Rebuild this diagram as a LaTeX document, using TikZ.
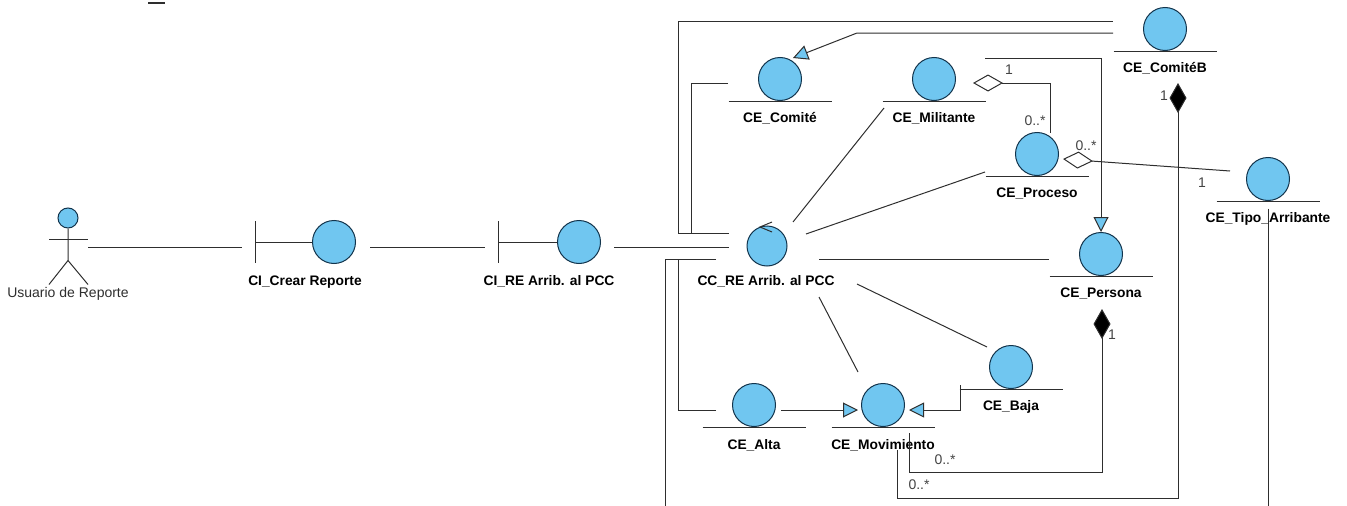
\documentclass[tikz,border=0pt]{standalone}
\usepackage{fontspec}
\setmainfont{Liberation Sans}
\usetikzlibrary{arrows.meta}
\definecolor{umlblue}{HTML}{70C6F0}
\definecolor{umlline}{HTML}{2E2E2E}
\definecolor{umledge}{HTML}{12344C}
\tikzset{
	entity/.style={
		circle,
		draw=umledge,
		fill=umlblue,
		line width=1pt,
		inner sep=0pt,
		minimum size=43pt
	},
	control/.style={
		entity,
		minimum size=40pt
	},
	actorhead/.style={
		entity,
		minimum size=20pt
	},
	elabel/.style={
		font=\fontsize{13.8}{16}\selectfont\bfseries,
		text=black,
		inner sep=0pt
	},
	mult/.style={
		font=\fontsize{14}{16}\selectfont,
		text=umlline!90,
		inner sep=0pt
	},
	assoc/.style={
		draw=umlline,
		line width=1pt
	},
	general/.style={
		assoc,
		-{Triangle[open,fill=umlblue,length=15pt,width=15pt]}
	},
	shared/.style={
		assoc,
		{Diamond[open,fill=white,length=30pt,width=17pt]}-
	},
	composite/.style={
		assoc,
		{Diamond[fill=black,length=30pt,width=17pt]}-
	}
}
\begin{document}
\begin{tikzpicture}[x=1pt,y=-1pt]
	\useasboundingbox (0,0) rectangle (1347,506);

	% elements
	\node[actorhead] (usuario) at (68,218) {};
	\node[entity] (crear) at (334,242) {};
	\node[entity] (cire) at (579,242) {};
	\node[control] (cc) at (767,246) {};
	\node[entity] (comite) at (780,79) {};
	\node[entity] (militante) at (934,79) {};
	\node[entity] (comiteb) at (1165,29) {};
	\node[entity] (proceso) at (1037,154) {};
	\node[entity] (tipo) at (1268,179) {};
	\node[entity] (persona) at (1101,254) {};
	\node[entity] (baja) at (1011,367) {};
	\node[entity] (alta) at (754,405) {};
	\node[entity] (movimiento) at (883,405) {};
	\coordinate (bottoma) at (665,506);
	\coordinate (bottomb) at (1268,506);

	% names
	\node[font=\fontsize{14}{16}\selectfont,text=umlline] (usuariolabel) at (68,294) {Usuario de Reporte};
	\node[elabel] (crearlabel) at (305,282) {CI\_Crear Reporte};
	\node[elabel] (cirelabel) at (549,281) {CI\_RE Arrib. al PCC};
	\node[elabel] (cclabel) at (766,281) {CC\_RE Arrib. al PCC};
	\node[elabel] (comitelabel) at (780,118) {CE\_Comité};
	\node[elabel] (militantelabel) at (934,118) {CE\_Militante};
	\node[elabel] (comiteblabel) at (1165,68) {CE\_ComitéB};
	\node[elabel] (procesolabel) at (1037,194) {CE\_Proceso};
	\node[elabel] (tipolabel) at (1268,219) {CE\_Tipo\_Arribante};
	\node[elabel] (personalabel) at (1101,294) {CE\_Persona};
	\node[elabel] (bajalabel) at (1011,407) {CE\_Baja};
	\node[elabel] (altalabel) at (754,445) {CE\_Alta};
	\node[elabel] (movimientolabel) at (883,445) {CE\_Movimiento};

	% multiplicities
	\node[mult] (mult1) at (1009,70) {1};
	\node[mult] (mult2) at (1035,121) {0..*};
	\node[mult] (mult3) at (1086,146) {0..*};
	\node[mult] (mult4) at (1202,183) {1};
	\node[mult] (mult5) at (1164,96) {1};
	\node[mult] (mult6) at (1112,335) {1};
	\node[mult] (mult7) at (945,460) {0..*};
	\node[mult] (mult8) at (919,485) {0..*};

	% bars under the entities
	\foreach \n in {comite,militante,comiteb,proceso,tipo,persona,baja,alta,movimiento}
		\draw[assoc] ([xshift=-51.5pt]\n.south) -- ([xshift=51.5pt]\n.south);

	% boundaries
	\foreach \n/\d in {crear/79,cire/81} {
		\draw[assoc] ([shift={(-\d,-21)}]\n.center) -- ([shift={(-\d,21)}]\n.center);
		\draw[assoc] ([shift={(-\d,0)}]\n.center) -- (\n.west);
	}

	% control arrow
	\draw[assoc] ([shift={(5,-24)}]cc.center) -- ([shift={(-7,-19)}]cc.center) -- ([shift={(5,-14)}]cc.center);

	% actor
	\draw[assoc] (usuario.south) -- ([shift={(0,32)}]usuario.south) -- ([shift={(-19,56)}]usuario.south);
	\draw[assoc] ([shift={(0,32)}]usuario.south) -- ([shift={(20,56)}]usuario.south);
	\draw[assoc] ([shift={(-19,11)}]usuario.south) -- ([shift={(20,11)}]usuario.south);

	% left chain
	\draw[assoc] ([shift={(20,29)}]usuario.center) -- ([shift={(-92,5)}]crear.center);
	\draw[assoc] ([shift={(36,5)}]crear.center) -- ([shift={(-94,5)}]cire.center);
	\draw[assoc] ([shift={(35,5)}]cire.center) -- ([shift={(-38,1)}]cc.center);

	% control to entities
	\draw[assoc] ([shift={(-38,-12.5)}]cc.center) -- ++(-51,0) |- ([shift={(-52,-8)}]comiteb.center);
	\draw[assoc] ([shift={(-52,4)}]comite.center) -- ++(-37,0) |- ([shift={(-38,-12.5)}]cc.center);
	\draw[assoc] ([shift={(-50,29)}]militante.center) -- ([shift={(26,-24)}]cc.center);
	\draw[assoc] ([shift={(-52,18)}]proceso.center) -- ([shift={(39,-12)}]cc.center);
	\draw[assoc] ([shift={(-52,5)}]persona.center) -- ([shift={(52,13)}]cc.center);
	\draw[assoc] ([shift={(-51,13)}]cc.center) -- ++(-51,0) -- (bottoma);
	\draw[assoc] ([shift={(-38,5)}]alta.center) -- ++(-38,0) |- ([shift={(-51,13)}]cc.center);
	\draw[assoc] ([shift={(52,51)}]cc.center) -- ([shift={(-25,-33)}]movimiento.center);
	\draw[assoc] ([shift={(90,38)}]cc.center) -- ([shift={(-24,-20)}]baja.center);

	% generalizations
	\draw[general] ([shift={(-52,4)}]comiteb.center) -- ++(-256,0) -- ([shift={(13,-21)}]comite.center);
	\draw[general] ([shift={(27,5)}]alta.center) -- ([shift={(-25,5)}]movimiento.center);
	\draw[general] ([shift={(-51,18)}]baja.center) |- ([shift={(26,5)}]movimiento.center);
	\draw[general] ([shift={(51,-21)}]militante.center) -| (persona.north);

	% aggregations
	\draw[shared] ([shift={(39,4)}]militante.center) -| ([shift={(13,-21)}]proceso.center);
	\draw[shared] ([shift={(26,5)}]proceso.center) -- ([shift={(-38,-8)}]tipo.center);
	\draw[composite] ([shift={(13,54)}]comiteb.center) -- ++(0,415) -| ([shift={(14,45)}]movimiento.center);
	\draw[composite] ([shift={(1,55)}]persona.center) -- ++(0,163) -| ([shift={(26,28)}]movimiento.center);
	\draw[assoc] ([shift={(0,7.5)}]tipo.south) -- (bottomb);

	% rest of the cut off title
	\fill[umlline] (148,2) rectangle (165,4);
\end{tikzpicture}
\end{document}
